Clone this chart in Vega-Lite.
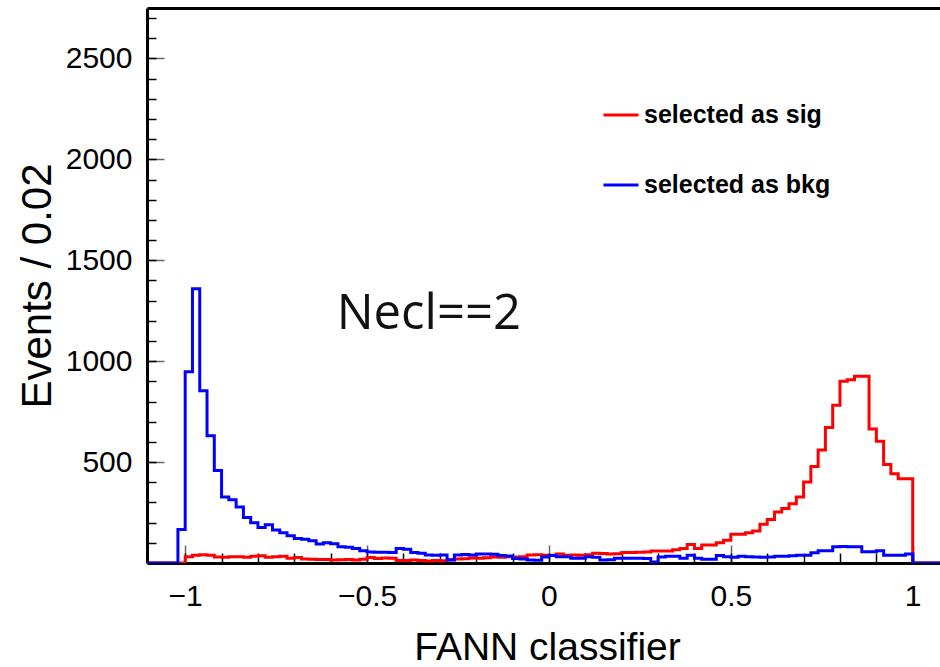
{
  "$schema": "https://vega.github.io/schema/vega-lite/v6.json",
  "width": 793,
  "height": 555,
  "autosize": {"type": "none"},
  "padding": {"left": 147, "top": 8, "right": 0, "bottom": 104},
  "background": "white",
  "config": {"view": {"stroke": null}, "font": "Liberation Sans"},
  "datasets": {
    "sig": [
      {"series": "selected as sig", "x": -1.2, "events": 0},
      {"series": "selected as sig", "x": -1.0, "events": 31},
      {"series": "selected as sig", "x": -0.98, "events": 39},
      {"series": "selected as sig", "x": -0.96, "events": 41},
      {"series": "selected as sig", "x": -0.94, "events": 38},
      {"series": "selected as sig", "x": -0.92, "events": 30},
      {"series": "selected as sig", "x": -0.9, "events": 28},
      {"series": "selected as sig", "x": -0.88, "events": 31},
      {"series": "selected as sig", "x": -0.86, "events": 31},
      {"series": "selected as sig", "x": -0.84, "events": 28},
      {"series": "selected as sig", "x": -0.82, "events": 33},
      {"series": "selected as sig", "x": -0.8, "events": 36},
      {"series": "selected as sig", "x": -0.78, "events": 28},
      {"series": "selected as sig", "x": -0.76, "events": 31},
      {"series": "selected as sig", "x": -0.74, "events": 33},
      {"series": "selected as sig", "x": -0.72, "events": 24},
      {"series": "selected as sig", "x": -0.7, "events": 27},
      {"series": "selected as sig", "x": -0.68, "events": 20},
      {"series": "selected as sig", "x": -0.66, "events": 18},
      {"series": "selected as sig", "x": -0.64, "events": 17},
      {"series": "selected as sig", "x": -0.62, "events": 17},
      {"series": "selected as sig", "x": -0.6, "events": 15},
      {"series": "selected as sig", "x": -0.58, "events": 16},
      {"series": "selected as sig", "x": -0.56, "events": 17},
      {"series": "selected as sig", "x": -0.54, "events": 15},
      {"series": "selected as sig", "x": -0.52, "events": 18},
      {"series": "selected as sig", "x": -0.5, "events": 27},
      {"series": "selected as sig", "x": -0.48, "events": 22},
      {"series": "selected as sig", "x": -0.46, "events": 25},
      {"series": "selected as sig", "x": -0.44, "events": 24},
      {"series": "selected as sig", "x": -0.42, "events": 13},
      {"series": "selected as sig", "x": -0.4, "events": 12},
      {"series": "selected as sig", "x": -0.38, "events": 15},
      {"series": "selected as sig", "x": -0.36, "events": 12},
      {"series": "selected as sig", "x": -0.34, "events": 10},
      {"series": "selected as sig", "x": -0.32, "events": 13},
      {"series": "selected as sig", "x": -0.3, "events": 11},
      {"series": "selected as sig", "x": -0.28, "events": 16},
      {"series": "selected as sig", "x": -0.26, "events": 20},
      {"series": "selected as sig", "x": -0.24, "events": 21},
      {"series": "selected as sig", "x": -0.22, "events": 25},
      {"series": "selected as sig", "x": -0.2, "events": 24},
      {"series": "selected as sig", "x": -0.18, "events": 26},
      {"series": "selected as sig", "x": -0.16, "events": 30},
      {"series": "selected as sig", "x": -0.14, "events": 29},
      {"series": "selected as sig", "x": -0.12, "events": 31},
      {"series": "selected as sig", "x": -0.1, "events": 30},
      {"series": "selected as sig", "x": -0.08, "events": 31},
      {"series": "selected as sig", "x": -0.06, "events": 40},
      {"series": "selected as sig", "x": -0.04, "events": 41},
      {"series": "selected as sig", "x": -0.02, "events": 39},
      {"series": "selected as sig", "x": 0.0, "events": 39},
      {"series": "selected as sig", "x": 0.02, "events": 45},
      {"series": "selected as sig", "x": 0.04, "events": 39},
      {"series": "selected as sig", "x": 0.06, "events": 40},
      {"series": "selected as sig", "x": 0.08, "events": 39},
      {"series": "selected as sig", "x": 0.1, "events": 41},
      {"series": "selected as sig", "x": 0.12, "events": 48},
      {"series": "selected as sig", "x": 0.14, "events": 47},
      {"series": "selected as sig", "x": 0.16, "events": 45},
      {"series": "selected as sig", "x": 0.18, "events": 46},
      {"series": "selected as sig", "x": 0.2, "events": 52},
      {"series": "selected as sig", "x": 0.22, "events": 52},
      {"series": "selected as sig", "x": 0.24, "events": 53},
      {"series": "selected as sig", "x": 0.26, "events": 55},
      {"series": "selected as sig", "x": 0.28, "events": 59},
      {"series": "selected as sig", "x": 0.3, "events": 59},
      {"series": "selected as sig", "x": 0.32, "events": 60},
      {"series": "selected as sig", "x": 0.34, "events": 66},
      {"series": "selected as sig", "x": 0.36, "events": 72},
      {"series": "selected as sig", "x": 0.38, "events": 92},
      {"series": "selected as sig", "x": 0.4, "events": 72},
      {"series": "selected as sig", "x": 0.42, "events": 89},
      {"series": "selected as sig", "x": 0.44, "events": 89},
      {"series": "selected as sig", "x": 0.46, "events": 100},
      {"series": "selected as sig", "x": 0.48, "events": 113},
      {"series": "selected as sig", "x": 0.5, "events": 143},
      {"series": "selected as sig", "x": 0.52, "events": 143},
      {"series": "selected as sig", "x": 0.54, "events": 150},
      {"series": "selected as sig", "x": 0.56, "events": 158},
      {"series": "selected as sig", "x": 0.58, "events": 192},
      {"series": "selected as sig", "x": 0.6, "events": 215},
      {"series": "selected as sig", "x": 0.62, "events": 253},
      {"series": "selected as sig", "x": 0.64, "events": 270},
      {"series": "selected as sig", "x": 0.66, "events": 294},
      {"series": "selected as sig", "x": 0.68, "events": 327},
      {"series": "selected as sig", "x": 0.7, "events": 401},
      {"series": "selected as sig", "x": 0.72, "events": 478},
      {"series": "selected as sig", "x": 0.74, "events": 560},
      {"series": "selected as sig", "x": 0.76, "events": 672},
      {"series": "selected as sig", "x": 0.78, "events": 782},
      {"series": "selected as sig", "x": 0.8, "events": 900},
      {"series": "selected as sig", "x": 0.82, "events": 908},
      {"series": "selected as sig", "x": 0.84, "events": 925},
      {"series": "selected as sig", "x": 0.86, "events": 925},
      {"series": "selected as sig", "x": 0.88, "events": 664},
      {"series": "selected as sig", "x": 0.9, "events": 603},
      {"series": "selected as sig", "x": 0.92, "events": 488},
      {"series": "selected as sig", "x": 0.94, "events": 442},
      {"series": "selected as sig", "x": 0.96, "events": 417},
      {"series": "selected as sig", "x": 0.98, "events": 417},
      {"series": "selected as sig", "x": 1.0, "events": 0},
      {"series": "selected as sig", "x": 1.2, "events": 0}
    ],
    "bkg": [
      {"series": "selected as bkg", "x": -1.2, "events": 0},
      {"series": "selected as bkg", "x": -1.02, "events": 166},
      {"series": "selected as bkg", "x": -1.0, "events": 948},
      {"series": "selected as bkg", "x": -0.98, "events": 1359},
      {"series": "selected as bkg", "x": -0.96, "events": 853},
      {"series": "selected as bkg", "x": -0.94, "events": 631},
      {"series": "selected as bkg", "x": -0.92, "events": 458},
      {"series": "selected as bkg", "x": -0.9, "events": 327},
      {"series": "selected as bkg", "x": -0.88, "events": 314},
      {"series": "selected as bkg", "x": -0.86, "events": 277},
      {"series": "selected as bkg", "x": -0.84, "events": 225},
      {"series": "selected as bkg", "x": -0.82, "events": 200},
      {"series": "selected as bkg", "x": -0.8, "events": 176},
      {"series": "selected as bkg", "x": -0.78, "events": 189},
      {"series": "selected as bkg", "x": -0.76, "events": 163},
      {"series": "selected as bkg", "x": -0.74, "events": 150},
      {"series": "selected as bkg", "x": -0.72, "events": 135},
      {"series": "selected as bkg", "x": -0.7, "events": 122},
      {"series": "selected as bkg", "x": -0.68, "events": 118},
      {"series": "selected as bkg", "x": -0.66, "events": 110},
      {"series": "selected as bkg", "x": -0.64, "events": 94},
      {"series": "selected as bkg", "x": -0.62, "events": 100},
      {"series": "selected as bkg", "x": -0.6, "events": 95},
      {"series": "selected as bkg", "x": -0.58, "events": 80},
      {"series": "selected as bkg", "x": -0.56, "events": 78},
      {"series": "selected as bkg", "x": -0.54, "events": 72},
      {"series": "selected as bkg", "x": -0.52, "events": 61},
      {"series": "selected as bkg", "x": -0.5, "events": 55},
      {"series": "selected as bkg", "x": -0.48, "events": 53},
      {"series": "selected as bkg", "x": -0.46, "events": 53},
      {"series": "selected as bkg", "x": -0.44, "events": 52},
      {"series": "selected as bkg", "x": -0.42, "events": 72},
      {"series": "selected as bkg", "x": -0.4, "events": 68},
      {"series": "selected as bkg", "x": -0.38, "events": 52},
      {"series": "selected as bkg", "x": -0.36, "events": 48},
      {"series": "selected as bkg", "x": -0.34, "events": 40},
      {"series": "selected as bkg", "x": -0.32, "events": 38},
      {"series": "selected as bkg", "x": -0.3, "events": 40},
      {"series": "selected as bkg", "x": -0.28, "events": 15},
      {"series": "selected as bkg", "x": -0.26, "events": 40},
      {"series": "selected as bkg", "x": -0.24, "events": 42},
      {"series": "selected as bkg", "x": -0.22, "events": 40},
      {"series": "selected as bkg", "x": -0.2, "events": 45},
      {"series": "selected as bkg", "x": -0.18, "events": 45},
      {"series": "selected as bkg", "x": -0.16, "events": 43},
      {"series": "selected as bkg", "x": -0.14, "events": 37},
      {"series": "selected as bkg", "x": -0.12, "events": 35},
      {"series": "selected as bkg", "x": -0.1, "events": 22},
      {"series": "selected as bkg", "x": -0.08, "events": 20},
      {"series": "selected as bkg", "x": -0.06, "events": 15},
      {"series": "selected as bkg", "x": -0.04, "events": 14},
      {"series": "selected as bkg", "x": -0.02, "events": 30},
      {"series": "selected as bkg", "x": 0.0, "events": 37},
      {"series": "selected as bkg", "x": 0.02, "events": 31},
      {"series": "selected as bkg", "x": 0.04, "events": 31},
      {"series": "selected as bkg", "x": 0.06, "events": 23},
      {"series": "selected as bkg", "x": 0.08, "events": 23},
      {"series": "selected as bkg", "x": 0.1, "events": 31},
      {"series": "selected as bkg", "x": 0.12, "events": 28},
      {"series": "selected as bkg", "x": 0.14, "events": 15},
      {"series": "selected as bkg", "x": 0.16, "events": 16},
      {"series": "selected as bkg", "x": 0.18, "events": 23},
      {"series": "selected as bkg", "x": 0.2, "events": 23},
      {"series": "selected as bkg", "x": 0.22, "events": 24},
      {"series": "selected as bkg", "x": 0.24, "events": 23},
      {"series": "selected as bkg", "x": 0.26, "events": 22},
      {"series": "selected as bkg", "x": 0.28, "events": 5},
      {"series": "selected as bkg", "x": 0.3, "events": 30},
      {"series": "selected as bkg", "x": 0.32, "events": 34},
      {"series": "selected as bkg", "x": 0.34, "events": 33},
      {"series": "selected as bkg", "x": 0.36, "events": 23},
      {"series": "selected as bkg", "x": 0.38, "events": 39},
      {"series": "selected as bkg", "x": 0.4, "events": 23},
      {"series": "selected as bkg", "x": 0.42, "events": 18},
      {"series": "selected as bkg", "x": 0.44, "events": 19},
      {"series": "selected as bkg", "x": 0.46, "events": 37},
      {"series": "selected as bkg", "x": 0.48, "events": 31},
      {"series": "selected as bkg", "x": 0.5, "events": 28},
      {"series": "selected as bkg", "x": 0.52, "events": 33},
      {"series": "selected as bkg", "x": 0.54, "events": 31},
      {"series": "selected as bkg", "x": 0.56, "events": 30},
      {"series": "selected as bkg", "x": 0.58, "events": 28},
      {"series": "selected as bkg", "x": 0.6, "events": 30},
      {"series": "selected as bkg", "x": 0.62, "events": 34},
      {"series": "selected as bkg", "x": 0.64, "events": 34},
      {"series": "selected as bkg", "x": 0.66, "events": 36},
      {"series": "selected as bkg", "x": 0.68, "events": 39},
      {"series": "selected as bkg", "x": 0.7, "events": 39},
      {"series": "selected as bkg", "x": 0.72, "events": 51},
      {"series": "selected as bkg", "x": 0.74, "events": 61},
      {"series": "selected as bkg", "x": 0.76, "events": 61},
      {"series": "selected as bkg", "x": 0.78, "events": 80},
      {"series": "selected as bkg", "x": 0.8, "events": 82},
      {"series": "selected as bkg", "x": 0.82, "events": 80},
      {"series": "selected as bkg", "x": 0.84, "events": 80},
      {"series": "selected as bkg", "x": 0.86, "events": 56},
      {"series": "selected as bkg", "x": 0.88, "events": 56},
      {"series": "selected as bkg", "x": 0.9, "events": 61},
      {"series": "selected as bkg", "x": 0.92, "events": 39},
      {"series": "selected as bkg", "x": 0.94, "events": 39},
      {"series": "selected as bkg", "x": 0.96, "events": 39},
      {"series": "selected as bkg", "x": 0.98, "events": 44},
      {"series": "selected as bkg", "x": 1.0, "events": 0},
      {"series": "selected as bkg", "x": 1.2, "events": 0}
    ]
  },
  "resolve": {"axis": {"x": "independent", "y": "independent"}},
  "layer": [
    {
      "data": {"name": "sig"},
      "mark": {"type": "line", "interpolate": "step-after", "strokeWidth": 3, "clip": true},
      "encoding": {
        "x": {
          "field": "x", "type": "quantitative",
          "scale": {"domain": [-1.105, 1.075], "nice": false, "zero": false},
          "axis": {
            "orient": "bottom", "values": [-1, -0.5, 0, 0.5, 1], "format": ".1~f",
            "tickSize": -18, "tickColor": "#666666", "tickWidth": 1.5,
            "labelFont": "Liberation Sans", "labelFontSize": 30, "labelColor": "black", "labelPadding": 36,
            "domain": true, "domainColor": "black", "domainWidth": 3, "grid": false,
            "title": "FANN classifier", "titleFont": "Liberation Sans", "titleFontSize": 39, "titleFontWeight": "normal",
            "titleColor": "black", "titleY": 96, "titleX": 400, "titleBaseline": "alphabetic"
          }
        },
        "y": {
          "field": "events", "type": "quantitative",
          "scale": {"domain": [0, 2750], "nice": false},
          "axis": {
            "orient": "left", "values": [500, 1000, 1500, 2000, 2500], "format": "d",
            "tickSize": -17, "tickColor": "#666666", "tickWidth": 1.5,
            "labelFont": "Liberation Sans", "labelFontSize": 30, "labelColor": "black", "labelPadding": 32,
            "domain": true, "domainColor": "black", "domainWidth": 3, "grid": false,
            "title": "Events / 0.02", "titleFont": "Liberation Sans", "titleFontSize": 42, "titleFontWeight": "normal",
            "titleColor": "black", "titleX": -97, "titleBaseline": "alphabetic", "titleAngle": -90
          }
        },
        "color": {
          "field": "series", "type": "nominal",
          "scale": {"domain": ["selected as sig", "selected as bkg"], "range": ["#ff0000", "#0000ff"]},
          "legend": {
            "orient": "none", "legendX": 455, "legendY": 88, "title": null,
            "symbolType": "stroke", "symbolStrokeWidth": 3, "symbolSize": 1225,
            "labelFont": "Liberation Sans", "labelFontWeight": "bold", "labelFontSize": 25,
            "labelColor": "black", "labelOffset": 4, "rowPadding": 38, "labelLimit": 400
          }
        }
      }
    },
    {
      "data": {"name": "bkg"},
      "mark": {"type": "line", "interpolate": "step-after", "strokeWidth": 3, "clip": true},
      "encoding": {
        "x": {
          "field": "x", "type": "quantitative",
          "axis": {
            "orient": "bottom",
            "values": [-1, -0.9, -0.8, -0.7, -0.6, -0.5, -0.4, -0.3, -0.2, -0.1, 0, 0.1, 0.2, 0.3, 0.4, 0.5, 0.6, 0.7, 0.8, 0.9, 1],
            "labels": false, "tickSize": -10, "tickColor": "black", "tickWidth": 1.5,
            "domain": false, "grid": false, "title": null
          }
        },
        "y": {
          "field": "events", "type": "quantitative",
          "axis": {
            "orient": "left",
            "values": [100, 200, 300, 400, 500, 600, 700, 800, 900, 1000, 1100, 1200, 1300, 1400, 1500, 1600, 1700, 1800, 1900, 2000, 2100, 2200, 2300, 2400, 2500, 2600, 2700],
            "labels": false, "tickSize": -9, "tickColor": "black", "tickWidth": 1.5,
            "domain": false, "grid": false, "title": null
          }
        },
        "color": {
          "field": "series", "type": "nominal",
          "scale": {"domain": ["selected as sig", "selected as bkg"], "range": ["#ff0000", "#0000ff"]},
          "legend": {
            "orient": "none", "legendX": 455, "legendY": 88, "title": null,
            "symbolType": "stroke", "symbolStrokeWidth": 3, "symbolSize": 1225,
            "labelFont": "Liberation Sans", "labelFontWeight": "bold", "labelFontSize": 25,
            "labelColor": "black", "labelOffset": 4, "rowPadding": 38, "labelLimit": 400
          }
        }
      }
    },
    {
      "data": {"values": [{"label": "Necl==2"}]},
      "mark": {"type": "text", "font": "Open Sans", "fontSize": 49, "align": "left", "baseline": "alphabetic", "color": "#111111"},
      "encoding": {
        "x": {
          "datum": -0.5835, "type": "quantitative",
          "axis": {"orient": "top", "labels": false, "ticks": false, "domain": true, "domainColor": "black", "domainWidth": 3, "grid": false, "title": null}
        },
        "y": {"datum": 1159, "type": "quantitative", "axis": null},
        "text": {"field": "label"}
      }
    }
  ]
}
